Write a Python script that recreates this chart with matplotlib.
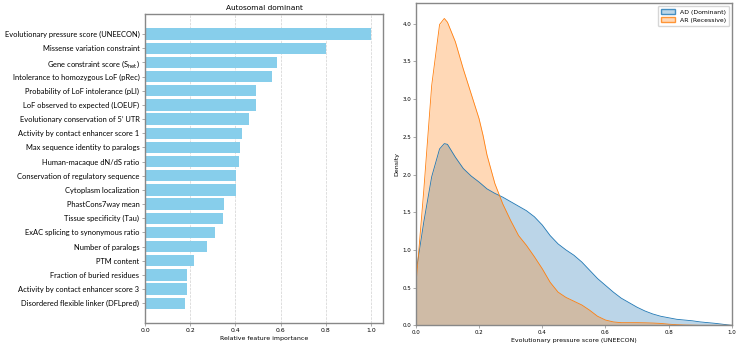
import numpy as np
import matplotlib
matplotlib.use("Agg")
import matplotlib.pyplot as plt
from matplotlib.patches import Patch

# ---------------- data ----------------
features = [
    "Evolutionary pressure score (UNEECON)",
    "Missense variation constraint",
    r"Gene constraint score (S$_{\mathrm{het}}$)",
    "Intolerance to homozygous LoF (pRec)",
    "Probability of LoF intolerance (pLI)",
    "LoF observed to expected (LOEUF)",
    "Evolutionary conservation of 5\u2019 UTR",
    "Activity by contact enhancer score 1",
    "Max sequence identity to paralogs",
    "Human-macaque dN/dS ratio",
    "Conservation of regulatory sequence",
    "Cytoplasm localization",
    "PhastCons7way mean",
    "Tissue specificity (Tau)",
    "ExAC splicing to synonymous ratio",
    "Number of paralogs",
    "PTM content",
    "Fraction of buried residues",
    "Activity by contact enhancer score 3",
    "Disordered flexible linker (DFLpred)",
]
importance = [1.0, 0.80, 0.582, 0.561, 0.492, 0.490, 0.459, 0.428, 0.419, 0.415,
              0.403, 0.403, 0.350, 0.346, 0.310, 0.276, 0.217, 0.186, 0.186, 0.177]

# density curves
score_x = [0.0, 0.025, 0.05, 0.075, 0.09, 0.1, 0.125, 0.15, 0.175, 0.2, 0.2125, 0.225, 0.25,
           0.275, 0.3, 0.325, 0.35, 0.375, 0.4, 0.425, 0.45, 0.475, 0.5, 0.525,
           0.55, 0.575, 0.6, 0.625, 0.65, 0.675, 0.7, 0.725, 0.75, 0.775, 0.8,
           0.825, 0.85, 0.875, 0.9, 0.925, 0.95, 0.975, 1.0]
ad_density = [0.69, 1.37, 1.97, 2.34, 2.41, 2.40, 2.23, 2.08, 1.98, 1.90, 1.855, 1.81, 1.75,
              1.70, 1.64, 1.58, 1.52, 1.44, 1.33, 1.19, 1.08, 1.00, 0.93, 0.84,
              0.73, 0.62, 0.53, 0.44, 0.36, 0.30, 0.24, 0.19, 0.15, 0.12, 0.10,
              0.08, 0.07, 0.06, 0.045, 0.035, 0.025, 0.012, 0.0]
ar_density = [0.52, 1.79, 3.18, 3.99, 4.07, 4.02, 3.76, 3.40, 3.07, 2.74, 2.52, 2.26, 1.88,
              1.61, 1.39, 1.19, 1.06, 0.91, 0.75, 0.57, 0.44, 0.37, 0.32, 0.27,
              0.20, 0.12, 0.07, 0.045, 0.035, 0.035, 0.035, 0.033, 0.03, 0.025, 0.015,
              0.008, 0.004, 0.002, 0.0, 0.0, 0.0, 0.0, 0.0]
series_labels = ["AD (Dominant)", "AR (Recessive)"]

# ---------------- figure ----------------
fig = plt.figure(figsize=(7.4, 3.47), dpi=100)
spine_col = "#888888"

# left: feature importance
ax1 = fig.add_axes([0.196, 0.069, 0.322, 0.891])
ypos = np.arange(len(features))
ax1.barh(ypos, importance, height=0.8, color="#87CEEB", zorder=2)
ax1.set_ylim(len(features) - 1 + 1.4, -1.43)
ax1.set_xlim(0, 1.054)
ax1.set_yticks(ypos)
ax1.set_yticklabels(features, fontsize=5.4, family=["Lato", "DejaVu Sans"])
ax1.set_xticks([0, 0.2, 0.4, 0.6, 0.8, 1.0])
ax1.set_xticklabels(["0.0", "0.2", "0.4", "0.6", "0.8", "1.0"])
ax1.tick_params(axis="x", labelsize=4.4, length=2, width=0.5, color=spine_col, pad=1.5)
ax1.tick_params(axis="y", length=2, width=0.5, color=spine_col, pad=2)
ax1.grid(axis="x", linestyle="--", linewidth=0.5, color="#d0d0d0", zorder=0)
ax1.set_axisbelow(True)
for s in ax1.spines.values():
    s.set_color(spine_col)
    s.set_linewidth(1.0)
ax1.set_xlabel("Relative feature importance", fontsize=4.5, labelpad=2)
ax1.set_title("Autosomal dominant", fontsize=5.3, pad=3)

# right: density
ax2 = fig.add_axes([0.562, 0.0625, 0.427, 0.9285])
c_ad, c_ar = "#1f77b4", "#ff7f0e"
ax2.fill_between(score_x, ad_density, 0, color=c_ad, alpha=0.3, linewidth=0)
ax2.plot(score_x, ad_density, color=c_ad, linewidth=0.6)
ax2.fill_between(score_x, ar_density, 0, color=c_ar, alpha=0.3, linewidth=0)
ax2.plot(score_x, ar_density, color=c_ar, linewidth=0.6)
ax2.set_xlim(0, 1)
ax2.set_ylim(0, max(ar_density) * 1.05)
ax2.set_xticks([0, 0.2, 0.4, 0.6, 0.8, 1.0])
ax2.set_yticks(np.arange(0, 4.01, 0.5))
ax2.tick_params(labelsize=4.0, length=2, width=0.5, color=spine_col, pad=1.5)
for s in ax2.spines.values():
    s.set_color(spine_col)
    s.set_linewidth(1.0)
ax2.set_xlabel("Evolutionary pressure score (UNEECON)", fontsize=4.5, labelpad=2)
ax2.set_ylabel("Density", fontsize=4.5, labelpad=2)
handles = [Patch(facecolor=(0.12, 0.47, 0.71, 0.3), edgecolor=(0.12, 0.47, 0.71, 0.8)),
           Patch(facecolor=(1.0, 0.5, 0.05, 0.3), edgecolor=(1.0, 0.5, 0.05, 0.8))]
ax2.legend(handles, series_labels, loc="upper right", fontsize=4.4, frameon=True,
           edgecolor="#cccccc", fancybox=True, handlelength=2.2, handleheight=0.9,
           borderpad=0.5, labelspacing=0.4)

fig.savefig("out.png", dpi=100)
